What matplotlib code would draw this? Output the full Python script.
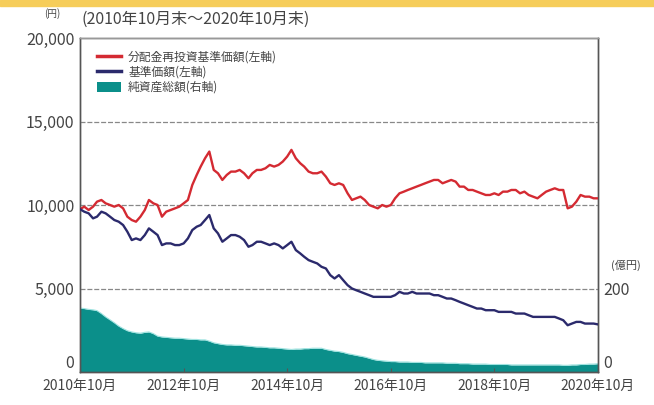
import numpy as np
import pandas as pd
import matplotlib
matplotlib.use("Agg")
import matplotlib.pyplot as plt
from matplotlib.lines import Line2D
from matplotlib.patches import Patch, Rectangle

plt.rcParams['font.family'] = ['Noto Sans CJK JP', 'DejaVu Sans']

# monthly values, 2010/10 end ~ 2020/10 end
dates = pd.date_range('2010-10-31', '2020-10-31', freq='ME')

reinvest_nav = [
    9750, 9900, 9700, 9900, 10200, 10300, 10100, 10000, 9900, 10000,
    9800, 9300, 9100, 9000, 9300, 9700, 10300, 10100, 10000, 9300,
    9600, 9700, 9800, 9900, 10100, 10300, 11200, 11800, 12300, 12800,
    13200, 12100, 11900, 11500, 11800, 12000, 12000, 12100, 11900, 11600,
    11900, 12100, 12100, 12200, 12400, 12300, 12400, 12600, 12900, 13300,
    12800, 12500, 12300, 12000, 11900, 11900, 12000, 11700, 11300, 11200,
    11300, 11200, 10700, 10300, 10400, 10500, 10300, 10000, 9900, 9800,
    10000, 9900, 10000, 10400, 10700, 10800, 10900, 11000, 11100, 11200,
    11300, 11400, 11500, 11500, 11300, 11400, 11500, 11400, 11100, 11100,
    10900, 10900, 10800, 10700, 10600, 10600, 10700, 10600, 10800, 10800,
    10900, 10900, 10700, 10800, 10600, 10500, 10400, 10600, 10800, 10900,
    11000, 10900, 10900, 9800, 9900, 10200, 10600, 10500, 10500, 10400,
    10400,
]

nav = [
    9750, 9600, 9500, 9200, 9300, 9600, 9500, 9300, 9100, 9000,
    8800, 8400, 7900, 8000, 7900, 8200, 8600, 8400, 8200, 7600,
    7700, 7700, 7600, 7600, 7700, 8000, 8500, 8700, 8800, 9100,
    9400, 8600, 8300, 7800, 8000, 8200, 8200, 8100, 7900, 7500,
    7600, 7800, 7800, 7700, 7600, 7700, 7600, 7400, 7600, 7800,
    7300, 7100, 6900, 6700, 6600, 6500, 6300, 6200, 5800, 5600,
    5800, 5500, 5200, 5000, 4900, 4800, 4700, 4600, 4500, 4500,
    4500, 4500, 4500, 4600, 4800, 4700, 4700, 4800, 4700, 4700,
    4700, 4700, 4600, 4600, 4500, 4400, 4400, 4300, 4200, 4100,
    4000, 3900, 3800, 3800, 3700, 3700, 3700, 3600, 3600, 3600,
    3600, 3500, 3500, 3500, 3400, 3300, 3300, 3300, 3300, 3300,
    3300, 3200, 3100, 2800, 2900, 3000, 3000, 2900, 2900, 2900,
    2850,
]

net_assets = [
    153, 152, 150, 149, 147, 140, 132, 125, 118, 110,
    104, 99, 96, 94, 93, 95, 96, 92, 86, 84,
    83, 82, 81, 81, 80, 79, 78, 78, 77, 77,
    74, 70, 68, 66, 65, 65, 64, 64, 63, 62,
    61, 60, 60, 59, 58, 58, 57, 56, 55, 54,
    55, 55, 56, 56, 57, 57, 57, 54, 52, 50,
    49, 47, 44, 42, 40, 38, 36, 33, 30, 28,
    27, 26, 25, 25, 24, 24, 24, 23, 23, 23,
    22, 22, 22, 22, 22, 21, 21, 21, 20, 20,
    20, 19, 19, 19, 19, 18, 18, 18, 18, 18,
    17, 17, 17, 17, 17, 17, 17, 17, 17, 17,
    17, 17, 16, 16, 17, 17, 18, 18, 19, 19,
    20,
]

xtick_dates = pd.to_datetime(['2010-10-31', '2012-10-31', '2014-10-31',
                              '2016-10-31', '2018-10-31', '2020-10-31'])
xtick_labels = ['2010年10月', '2012年10月', '2014年10月',
                '2016年10月', '2018年10月', '2020年10月']
left_ticks = [0, 5000, 10000, 15000, 20000]
left_labels = ['0', '5,000', '10,000', '15,000', '20,000']
right_ticks = [0, 200]

red = '#d42a32'
navy = '#2b2a6c'
teal = '#0b8f8a'
axis_col = '#555555'
text_col = '#444444'

fig = plt.figure(figsize=(6.54, 4.05), dpi=100)
fig.patches.append(Rectangle((0, 1 - 6 / 405), 1, 6 / 405, transform=fig.transFigure,
                             color='#f6cd5a', zorder=0))

ax = fig.add_axes([80 / 654, 33 / 405, 518 / 654, 334 / 405])
ax2 = ax.twinx()

ax2.fill_between(dates, 0, net_assets, color=teal, lw=0)
ax2.plot(dates, net_assets, color='#9fe3e0', lw=0.8)
ax2.set_ylim(0, 800)
ax2.set_yticks(right_ticks)
ax2.set_yticklabels([str(v) for v in right_ticks], fontsize=11.5, color=text_col)

ax.set_zorder(ax2.get_zorder() + 1)
ax.patch.set_visible(False)

for v in [5000, 10000, 15000]:
    ax.axhline(v, color='#888888', lw=0.9, ls=(0, (4, 1.5)), zorder=1)

ax.plot(dates, reinvest_nav, color=red, lw=1.7, zorder=3)
ax.plot(dates, nav, color=navy, lw=1.7, zorder=3)

ax.set_xlim(dates[0], dates[-1])
ax.set_ylim(0, 20000)
ax.set_yticks(left_ticks)
ax.set_yticklabels(left_labels, fontsize=11.5, color=text_col)
ax.set_xticks(xtick_dates)
ax.set_xticklabels(xtick_labels, fontsize=10, color=text_col)

ax.tick_params(axis='y', length=0, pad=4)
ax.tick_params(axis='x', direction='in', length=3, color=axis_col, pad=5)
ax2.tick_params(axis='y', length=0, pad=4)

# the zero labels sit just above the baseline
ax.get_yticklabels()[0].set_va('bottom')
ax2.get_yticklabels()[0].set_va('bottom')

for a in (ax, ax2):
    for s in a.spines.values():
        s.set_color(axis_col)
        s.set_linewidth(1.0)
ax.spines['top'].set_color('#999999')

handles = [
    Line2D([], [], color=red, lw=2.5),
    Line2D([], [], color=navy, lw=2.5),
    Patch(facecolor=teal, edgecolor='none'),
]
labels = ['分配金再投資基準価額(左軸)', '基準価額(左軸)', '純資産総額(右軸)']
leg = ax.legend(handles, labels, loc='upper left', bbox_to_anchor=(0.02, 0.985),
                frameon=False, fontsize=8.5, handlelength=2.0, handleheight=0.9,
                labelspacing=0.2, borderaxespad=0.2, handletextpad=0.6)
for t in leg.get_texts():
    t.set_color(text_col)

fig.text(82 / 654, 1 - 19 / 405, '(2010年10月末～2020年10月末)', fontsize=11.5,
         color=text_col, va='center', ha='left')
fig.text(52 / 654, 1 - 14 / 405, '(円)', fontsize=7, color=text_col,
         va='center', ha='center')
fig.text(626 / 654, 1 - 265 / 405, '(億円)', fontsize=8, color=text_col,
         va='center', ha='center')

fig.savefig('out.png', dpi=100)
